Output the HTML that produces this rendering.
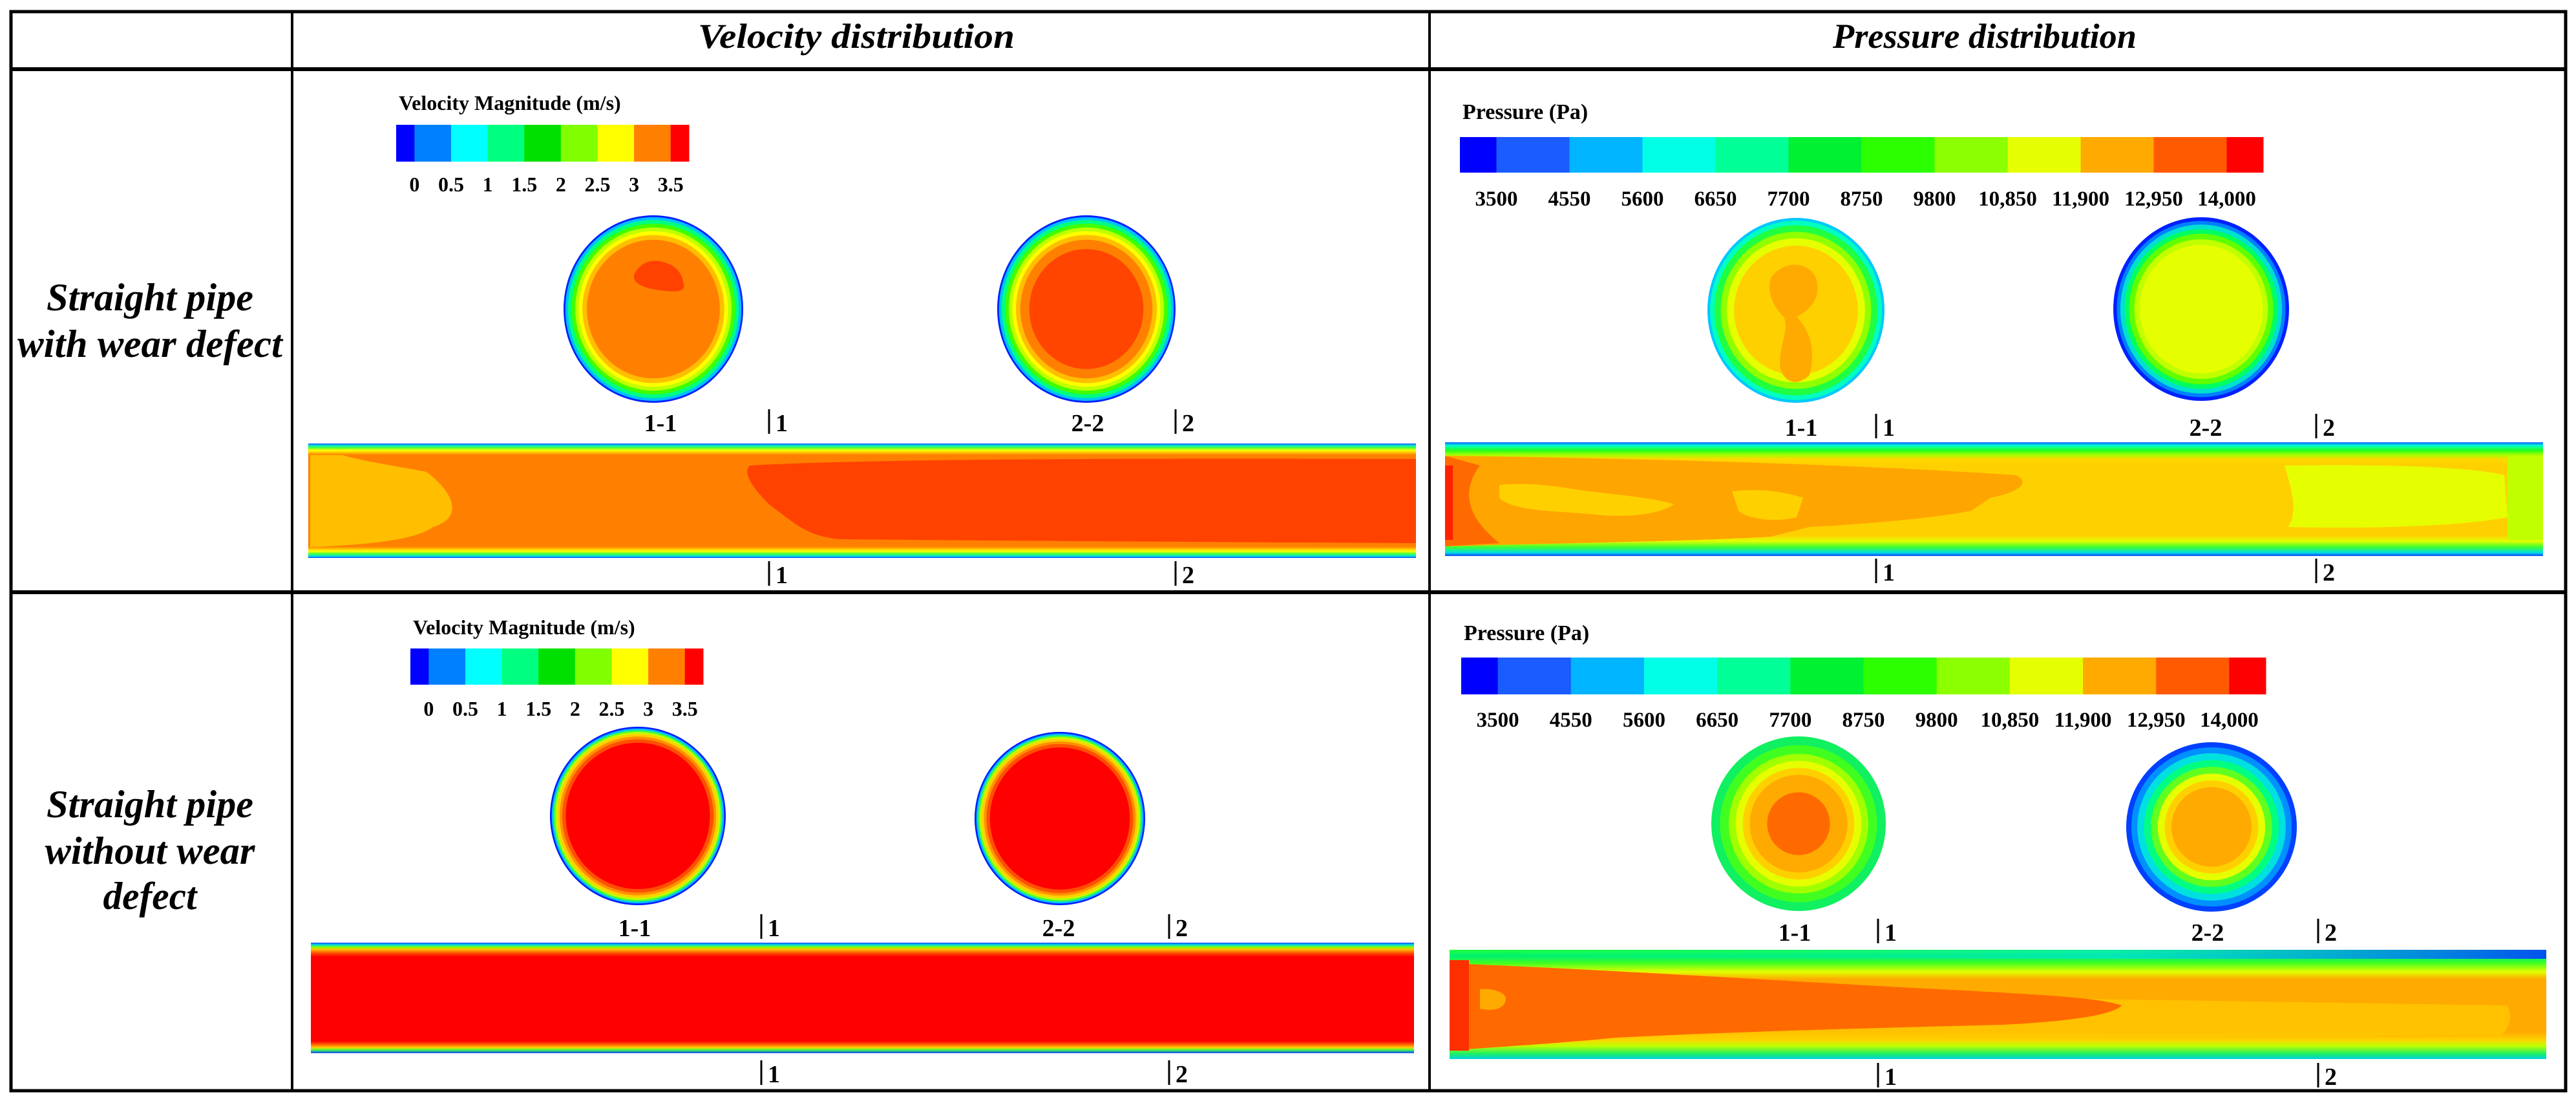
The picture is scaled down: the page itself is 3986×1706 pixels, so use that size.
<!DOCTYPE html>
<html><head><meta charset="utf-8"><style>
html,body{margin:0;padding:0;background:#fff;}
svg{display:block;}
.hd{font-family:"Liberation Serif",serif;font-weight:bold;font-style:italic;}
.lb{font-family:"Liberation Serif",serif;font-weight:bold;}
</style></head><body>
<svg id="fig" width="3986" height="1706" viewBox="0 0 3986 1706" xmlns="http://www.w3.org/2000/svg">
<defs>
<linearGradient id="vp1edge" x1="0" y1="0" x2="0" y2="1">
<stop offset="0" stop-color="#1040ff"/><stop offset="0.015" stop-color="#00e0e0"/><stop offset="0.035" stop-color="#40ff40"/><stop offset="0.06" stop-color="#ffff00"/><stop offset="0.08" stop-color="#ffbe00"/><stop offset="0.1" stop-color="#ff8000"/>
<stop offset="0.9" stop-color="#ff8000"/><stop offset="0.92" stop-color="#ffbe00"/><stop offset="0.94" stop-color="#ffff00"/><stop offset="0.965" stop-color="#40ff40"/><stop offset="0.985" stop-color="#00e0e0"/><stop offset="1" stop-color="#1040ff"/>
</linearGradient>
<linearGradient id="vp2edge" x1="0" y1="0" x2="0" y2="1">
<stop offset="0" stop-color="#1040ff"/><stop offset="0.02" stop-color="#00e0e0"/><stop offset="0.04" stop-color="#80ff00"/><stop offset="0.06" stop-color="#ffc000"/><stop offset="0.1" stop-color="#ff4000"/><stop offset="0.13" stop-color="#ff0000"/>
<stop offset="0.89" stop-color="#ff0000"/><stop offset="0.92" stop-color="#ff6000"/><stop offset="0.95" stop-color="#ffd000"/><stop offset="0.97" stop-color="#40ff40"/><stop offset="1" stop-color="#1040ff"/>
</linearGradient>
<linearGradient id="pp1edge" x1="0" y1="0" x2="0" y2="1">
<stop offset="0" stop-color="#1060ff"/><stop offset="0.03" stop-color="#00ffd0"/><stop offset="0.07" stop-color="#20ff20"/><stop offset="0.11" stop-color="#a0ff00"/><stop offset="0.15" stop-color="#ffd800"/><stop offset="0.2" stop-color="#ffd000"/>
<stop offset="0.82" stop-color="#ffd000"/><stop offset="0.87" stop-color="#e0ff00"/><stop offset="0.92" stop-color="#40ff30"/><stop offset="0.97" stop-color="#00e0e0"/><stop offset="1" stop-color="#1040ff"/>
</linearGradient>
<linearGradient id="pp2edge" x1="0" y1="0" x2="0" y2="1">
<stop offset="0" stop-color="#20ff40"/><stop offset="0.06" stop-color="#00f070"/><stop offset="0.12" stop-color="#40ff20"/><stop offset="0.2" stop-color="#e0ff00"/><stop offset="0.27" stop-color="#ffaa00"/>
<stop offset="0.75" stop-color="#ffaa00"/><stop offset="0.82" stop-color="#ffd000"/><stop offset="0.88" stop-color="#c0ff00"/><stop offset="0.95" stop-color="#20f060"/><stop offset="1" stop-color="#00d0e0"/>
</linearGradient>
<linearGradient id="pp2top" x1="0" y1="0" x2="1" y2="0">
<stop offset="0" stop-color="#00ff80" stop-opacity="0"/><stop offset="0.6" stop-color="#00e0ff" stop-opacity="0.5"/><stop offset="1" stop-color="#0040ff" stop-opacity="0.9"/>
</linearGradient>
</defs>

<g stroke="#000" fill="none">
<rect x="17" y="18" width="3953" height="1669" stroke-width="5"/>
<line x1="17" y1="107" x2="3970" y2="107" stroke-width="6"/>
<line x1="17" y1="916" x2="3970" y2="916" stroke-width="6"/>
<line x1="452" y1="18" x2="452" y2="1687" stroke-width="4"/>
<line x1="2212" y1="18" x2="2212" y2="1687" stroke-width="4"/>
</g>
<text class="hd" x="1325" y="74" font-size="54" text-anchor="middle" textLength="490" lengthAdjust="spacingAndGlyphs">Velocity distribution</text>
<text class="hd" x="3071" y="74" font-size="54" text-anchor="middle" textLength="470" lengthAdjust="spacingAndGlyphs">Pressure distribution</text>
<g class="hd" font-size="60" text-anchor="middle">
<text x="232" y="480" textLength="320" lengthAdjust="spacingAndGlyphs">Straight pipe</text>
<text x="232" y="552" textLength="410" lengthAdjust="spacingAndGlyphs">with wear defect</text>
</g>
<g class="hd" font-size="60" text-anchor="middle">
<text x="232" y="1264" textLength="320" lengthAdjust="spacingAndGlyphs">Straight pipe</text>
<text x="232" y="1336" textLength="325" lengthAdjust="spacingAndGlyphs">without wear</text>
<text x="232" y="1406" textLength="145" lengthAdjust="spacingAndGlyphs">defect</text>
</g>

<g id="legends"></g>

<g>
<rect x="477" y="686" width="1714" height="177" fill="url(#vp1edge)"/>
<path d="M480 704 L530 704 C570 715 620 722 660 730 C700 760 720 800 670 815 C650 830 600 842 480 846 Z" fill="#ffbe00"/>
<path d="M1160 720 C1300 712 1600 708 2191 710 L2191 840 C1800 838 1500 836 1300 834 C1250 830 1230 810 1190 780 C1160 750 1150 730 1160 720 Z" fill="#ff4200"/>
</g>
<g>
<rect x="481" y="1458" width="1707" height="171" fill="url(#vp2edge)"/>
</g>
<g>
<rect x="2236" y="684" width="1699" height="176" fill="url(#pp1edge)"/>
<path d="M2240 705 C2600 710 2900 720 3120 735 C3140 745 3130 760 3080 770 L3050 790 C3000 800 2900 810 2800 815 L2740 830 C2600 838 2400 840 2240 845 Z" fill="#ffa500"/>
<path d="M2320 750 C2380 745 2420 755 2460 760 C2500 765 2560 770 2590 780 C2560 800 2500 800 2460 795 C2400 790 2340 790 2320 770 Z" fill="#ffd000"/>
<path d="M2680 760 C2720 755 2760 760 2790 770 L2780 800 C2740 810 2700 800 2690 790 Z" fill="#ffd000"/>
<path d="M3535 720 C3700 718 3820 722 3875 735 L3880 800 C3800 815 3650 818 3540 815 C3560 790 3540 740 3535 720 Z" fill="#e6ff00"/>
<rect x="3880" y="705" width="55" height="130" fill="#c0ff00"/>
<path d="M2236 705 L2290 720 C2260 760 2270 800 2320 840 L2236 845 Z" fill="#ff6a00"/>
<rect x="2236" y="720" width="12" height="115" fill="#ff2000"/>
</g>
<g>
<rect x="2243" y="1469" width="1697" height="169" fill="url(#pp2edge)"/>
<rect x="2243" y="1469" width="1697" height="14" fill="url(#pp2top)"/>
<path d="M2243 1530 L3880 1555 C3890 1575 3880 1595 3870 1600 L2243 1610 Z" fill="#ffd000" opacity="0.6"/>
<path d="M2243 1490 C2500 1500 2800 1520 3000 1530 C3200 1540 3250 1545 3283 1555 C3270 1570 3200 1580 3100 1585 C2900 1590 2700 1595 2500 1605 C2400 1615 2300 1620 2243 1625 Z" fill="#ff6a00"/>
<path d="M2290 1530 C2310 1528 2330 1535 2330 1545 C2330 1560 2310 1565 2290 1560 Z" fill="#ffaa00"/>
<rect x="2243" y="1485" width="30" height="140" fill="#ff3000"/>
</g>

<g id="circles"></g>
<g id="labels" class="lb"></g>
</svg>
<script>
var NS='http://www.w3.org/2000/svg';
function mk(tag,parent,attrs){var e=document.createElementNS(NS,tag);for(var k in attrs)e.setAttribute(k,attrs[k]);parent.appendChild(e);return e;}

var velTicks=['0','0.5','1','1.5','2','2.5','3','3.5'];
var velColors=['#0000ff','#0080ff','#00ffff','#00ff80','#00e000','#80ff00','#ffff00','#ff8000','#ff0000'];
var presTicks=['3500','4550','5600','6650','7700','8750','9800','10,850','11,900','12,950','14,000'];
var presColors=['#0000ff','#1a5cff','#00b4ff','#00ffe6','#00ff96','#00f032','#2bff00','#8cff00','#e6ff00','#ffaa00','#ff5a00','#ff0000'];

var lg=document.getElementById('legends');
function colorbar(x0,x1,y0,h,titleY,tickY,colors,ticks,title,titleSize,tickSize,name){
  var g=mk('g',lg,{});
  
  
  var n=ticks.length; var step=(x1-x0)/n;
  for(var i=0;i<colors.length;i++){
    var a=(i==0)?x0:x0+step*(i-0.5);
    var b=(i==colors.length-1)?x1:x0+step*(i+0.5);
    var r=mk('rect',g,{x:a,y:y0,width:b-a+0.5,height:h,fill:colors[i]});
    
    
  }
  var t=mk('text',g,{x:x0+4,y:titleY,'font-size':titleSize,'class':'lb'});t.textContent=title;
  
  
  for(var j=0;j<n;j++){
    var tx=mk('text',g,{x:x0+step*(j+0.5),y:tickY,'font-size':tickSize,'text-anchor':'middle','class':'lb'});
    tx.textContent=ticks[j];
    
    
  }
}
colorbar(613,1066,193,57,170,296,velColors,velTicks,'Velocity Magnitude (m/s)',32,32,'velocity-colorbar-row1');
colorbar(635,1088,1003,56,981,1107,velColors,velTicks,'Velocity Magnitude (m/s)',32,32,'velocity-colorbar-row2');
colorbar(2259,3502,212,55,184,318,presColors,presTicks,'Pressure (Pa)',34,33,'pressure-colorbar-row1');
colorbar(2261,3506,1017,57,990,1124,presColors,presTicks,'Pressure (Pa)',34,33,'pressure-colorbar-row2');

var cg=document.getElementById('circles');
function section(cx,cy,rx,ry,name,layers){
  var g=mk('g',cg,{});
  
  
  for(var i=0;i<layers.length;i++){
    var f=layers[i][0];
    mk('ellipse',g,{cx:cx,cy:cy,rx:rx*f,ry:ry*f,fill:layers[i][1]});
  }
  return g;
}
var rimV=[[1,'#0020ff'],[0.98,'#00c0ff'],[0.95,'#00ff80'],[0.91,'#40ff00'],[0.87,'#c0ff00'],[0.83,'#ffff00'],[0.79,'#ffbe00']];
var g1=section(1011,478,139,145,'velocity-section-1-1-row1',rimV.concat([[0.74,'#ff8000']]));
mk('path',g1,{d:'M981 425 C990 405 1010 400 1025 405 C1045 410 1055 420 1058 440 C1060 450 1050 452 1030 450 C1000 447 978 440 981 425 Z',fill:'#ff4200'});
section(1681,478,138,145,'velocity-section-2-2-row1',rimV.concat([[0.74,'#ff8000'],[0.64,'#ff4500']]));
var rimV2=[[1,'#0020ff'],[0.98,'#00c0ff'],[0.96,'#40ff40'],[0.94,'#c0ff00'],[0.92,'#ffd000'],[0.89,'#ff9000'],[0.86,'#ff5000'],[0.82,'#ff0000']];
section(987,1262,136,138,'velocity-section-1-1-row2',rimV2);
section(1640,1266,132,134,'velocity-section-2-2-row2',rimV2);
var gp1=section(2779,480,137,143,'pressure-section-1-1-row1',[[1,'#00c8ff'],[0.97,'#00ffc0'],[0.92,'#20ff40'],[0.85,'#90ff00'],[0.78,'#e6ff00'],[0.7,'#ffd000']]);
mk('path',gp1,{d:'M2740 430 C2760 400 2800 405 2810 430 C2820 460 2800 480 2780 490 C2800 510 2810 540 2800 580 C2780 600 2760 590 2755 570 C2750 540 2770 510 2760 490 C2740 470 2735 450 2740 430 Z',fill:'#ffaa00'});
section(3406,478,136,142,'pressure-section-2-2-row1',[[1,'#0020ff'],[0.96,'#0080ff'],[0.92,'#00e0d0'],[0.87,'#00ff60'],[0.82,'#60ff00'],[0.76,'#c0ff00'],[0.7,'#e6ff00']]);
section(2783,1274,135,135,'pressure-section-1-1-row2',[[1,'#10f060'],[0.9,'#40ff20'],[0.8,'#a0ff00'],[0.72,'#e6ff00'],[0.64,'#ffd000'],[0.56,'#ffaa00'],[0.36,'#ff6a00']]);
section(3422,1279,132,131,'pressure-section-2-2-row2',[[1,'#0040ff'],[0.94,'#0090ff'],[0.87,'#00e0e0'],[0.79,'#00ff80'],[0.71,'#60ff20'],[0.63,'#e6ff00'],[0.55,'#ffd000'],[0.47,'#ffaa00']]);

var lb=document.getElementById('labels');
function txt(x,y,s,name){var t=mk('text',lb,{x:x,y:y,'font-size':38,'text-anchor':'middle'});t.textContent=s;
  
  }
function cut(x,y,s,name){var g=mk('g',lb,{});
  
  
  mk('line',g,{x1:x,y1:y-34,x2:x,y2:y+4,stroke:'#000','stroke-width':3});
  var t=mk('text',g,{x:x+10,y:y,'font-size':38});t.textContent=s;}
txt(1022,667,'1-1','section-label-1-1');cut(1190,667,'1','cut-marker-1');txt(1683,667,'2-2','section-label-2-2');cut(1819,667,'2','cut-marker-2');
cut(1190,902,'1','cut-marker-1');cut(1819,902,'2','cut-marker-2');
txt(2787,674,'1-1','section-label-1-1');cut(2903,674,'1','cut-marker-1');txt(3413,674,'2-2','section-label-2-2');cut(3584,674,'2','cut-marker-2');
cut(2903,898,'1','cut-marker-1');cut(3584,898,'2','cut-marker-2');
txt(982,1448,'1-1','section-label-1-1');cut(1178,1448,'1','cut-marker-1');txt(1638,1448,'2-2','section-label-2-2');cut(1809,1448,'2','cut-marker-2');
cut(1178,1674,'1','cut-marker-1');cut(1809,1674,'2','cut-marker-2');
txt(2777,1455,'1-1','section-label-1-1');cut(2906,1455,'1','cut-marker-1');txt(3416,1455,'2-2','section-label-2-2');cut(3587,1455,'2','cut-marker-2');
cut(2906,1678,'1','cut-marker-1');cut(3587,1678,'2','cut-marker-2');
</script>
</body></html>
